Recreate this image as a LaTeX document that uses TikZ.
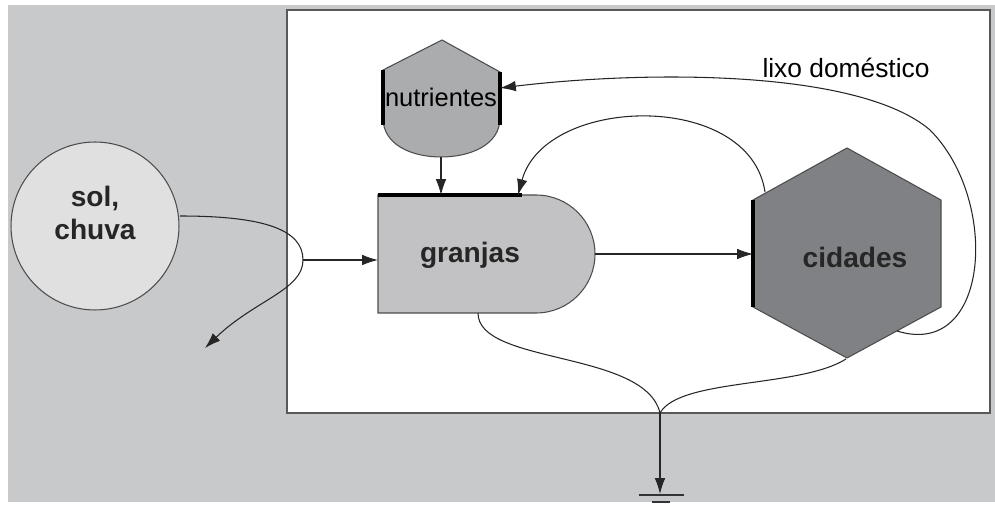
\documentclass[tikz,border=0pt]{standalone}
\usepackage{fontspec}
\setmainfont{Liberation Sans}
\usetikzlibrary{arrows.meta}

\definecolor{bggray}{HTML}{C8C9CB}
\definecolor{solgray}{HTML}{E0E0E1}
\definecolor{nutgray}{HTML}{ABACAE}
\definecolor{farmgray}{HTML}{C2C2C4}
\definecolor{citygray}{HTML}{808184}

\tikzset{
  flow/.style={draw=black!85, line width=0.6pt, -{Latex[length=9pt,width=6pt]}},
  flowline/.style={draw=black!85, line width=0.6pt},
  outline/.style={draw=black!70, line width=0.6pt},
  bar/.style={line width=1.8pt, black}
}

\begin{document}
\begin{tikzpicture}[x=0.02cm, y=-0.02cm]

            \useasboundingbox (0,0) rectangle (995,506);
            \fill[white] (0,0) rectangle (995,506);
            \fill[bggray] (8,5) rectangle (995,502);
            \draw[fill=white, draw=black!65, line width=0.8pt] (287,10) rectangle (990,413);

            % fontes
            \node[circle, outline, fill=solgray, minimum size=3.36cm, inner sep=0pt]
            	(sol) at (95,226) {};
            \node[font=\fontsize{16}{19}\selectfont\bfseries, align=center, text=black!85]
            	(soltext) at (95,213) {sol,\\chuva};

            % estoque
            \draw[outline, fill=nutgray] (442,40) -- (500,72) -- (500,118)
                .. controls (500,145) and (470,157) .. (441,157)
                .. controls (412,157) and (383,145) .. (383,118) -- (383,70) -- cycle;
            \draw[bar] (383,70) -- (383,125);
            \draw[bar] (500,72) -- (500,125);
            \node[font=\fontsize{14.5}{17}\selectfont]
            	(nutrientes) at (441,97) {nutrientes};

            % produtor
            \draw[outline, fill=farmgray] (378,195) -- (536,195) arc (-90:90:59) -- (378,313) -- cycle;
            \draw[line width=2.2pt] (378,195) -- (522,195);
            \node[font=\fontsize{16}{19}\selectfont\bfseries, text=black!85]
            	(granjas) at (470,255) {granjas};

            % consumidor
            \draw[outline, fill=citygray] (847,148) -- (941,200) -- (941,307) -- (847,358)
                -- (753,307) -- (753,200) -- cycle;
            \draw[bar] (753,200) -- (753,307);
            \node[font=\fontsize{16}{19}\selectfont\bfseries, text=black!85]
            	(cidades) at (855,257) {cidades};

            \node[font=\fontsize{15}{18}\selectfont]
            	(lixo) at (846,68) {lixo doméstico};

            % pontos de ligacao
            \coordinate (sol-e) at (180,216);
            \coordinate (split) at (303,260);
            \coordinate (reflexo) at (205,348);
            \coordinate (granjas-w) at (378,260);
            \coordinate (granjas-n) at (518,195);
            \coordinate (granjas-e) at (595,254);
            \coordinate (granjas-s) at (478,313);
            \coordinate (nut-s) at (441,157);
            \coordinate (nut-e) at (500,88);
            \coordinate (nut-in) at (441,195);
            \coordinate (cid-w) at (753,254);
            \coordinate (cid-nw) at (765,192);
            \coordinate (cid-se) at (897,331);
            \coordinate (cid-s) at (846,359);
            \coordinate (sink) at (660,413);
            \coordinate (terra) at (660,494);

            \begin{scope}
                \draw[flowline] (sol-e) .. controls (265,216) and (303,230) .. (split);
                \draw[flow] (split) .. controls (303,290) and (255,300) .. (reflexo);
                \draw[flow] (split) -- (granjas-w);
                \draw[flow] (nut-s) -- (nut-in);
                \draw[flow] (granjas-e) -- (cid-w);
                \draw[flow] (cid-nw) .. controls (750,90) and (545,95) .. (granjas-n);
                \draw[flow] (cid-se) .. controls (990,360) and (1000,200) .. (930,130)
                    .. controls (860,70) and (650,70) .. (nut-e);
                \draw[flowline] (granjas-s) .. controls (478,365) and (645,350) .. (sink);
                \draw[flowline] (cid-s) .. controls (800,388) and (680,378) .. (sink);
                \draw[flow] (sink) -- (terra);
            \end{scope}

            % terra
            \draw[line width=0.9pt, black!80] (639,495) -- (684,495);
            \draw[line width=0.9pt, black!80] (652,502) -- (670,502);
        \end{tikzpicture}
\end{document}
